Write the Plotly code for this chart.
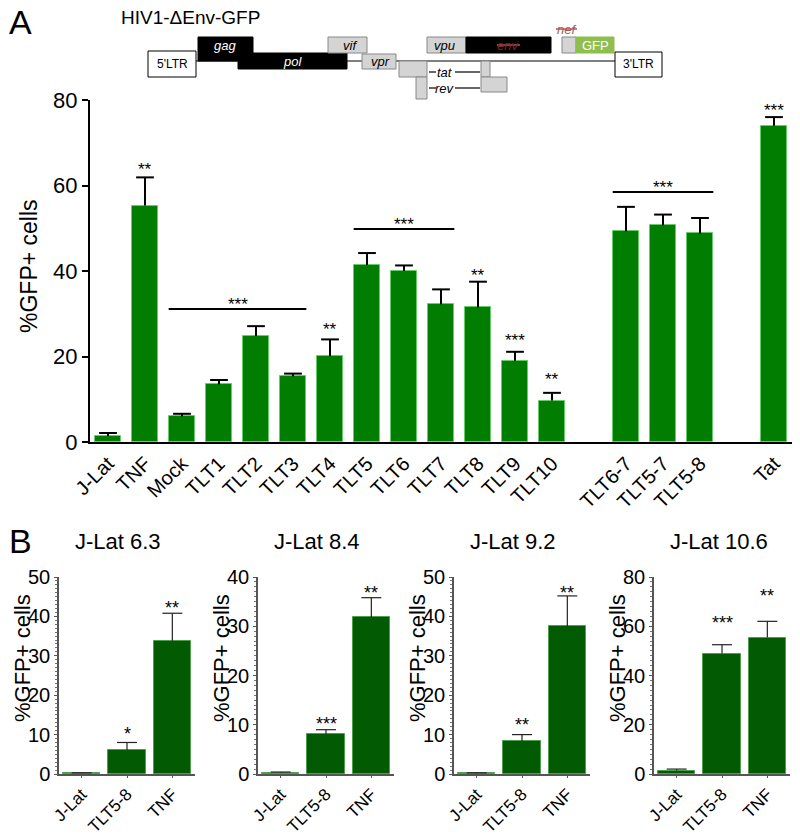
import plotly.graph_objects as go

W, H = 800, 834
OFF = 8  # page body margin offset
FONT = "Arial, Liberation Sans, Helvetica, sans-serif"

# ---------------- Panel A data ----------------
a_groups = [
    ["J-Lat", "TNF", "Mock", "TLT1", "TLT2", "TLT3", "TLT4", "TLT5", "TLT6",
     "TLT7", "TLT8", "TLT9", "TLT10"],
    ["TLT6-7", "TLT5-7", "TLT5-8"],
    ["Tat"],
]
a_values = [1.4, 55.3, 6.0, 13.5, 24.8, 15.4, 20.1, 41.4, 40.0, 32.2, 31.5,
            19.0, 9.7, 49.3, 50.7, 48.8, 74.0]
a_errors = [0.7, 6.6, 0.6, 1.0, 2.3, 0.6, 3.9, 2.8, 1.3, 3.5, 6.0, 2.1, 1.8,
            5.7, 2.5, 3.6, 2.0]
a_star_labels = ["TNF", "TLT4", "TLT8", "TLT9", "TLT10", "Tat"]
a_star_texts = ["**", "**", "**", "***", "**", "***"]
a_star_y = [64.8, 27.6, 40.1, 24.9, 15.7, 78.7]
a_bracket_from = ["Mock", "TLT5", "TLT6-7"]
a_bracket_to = ["TLT3", "TLT7", "TLT5-8"]
a_bracket_y = [31.1, 49.8, 58.5]
a_bracket_text = ["***", "***", "***"]
a_yticks = [0, 20, 40, 60, 80]

# ---------------- Panel B data ----------------
b_titles = ["J-Lat 6.3", "J-Lat 8.4", "J-Lat 9.2", "J-Lat 10.6"]
b_categories = ["J-Lat", "TLT5-8", "TNF"]
b_values = [[0.2, 6.1, 33.8], [0.3, 8.1, 31.8], [0.2, 8.4, 37.5], [1.4, 48.9, 55.4]]
b_errors = [[0.1, 1.9, 7.0], [0.1, 0.9, 4.0], [0.1, 1.6, 7.7], [0.6, 3.6, 6.6]]
b_ymax = [50, 40, 50, 80]
b_ydtick = [10, 10, 10, 20]
b_star_texts = [["", "*", "**"], ["", "***", "**"], ["", "**", "**"], ["", "***", "**"]]
b_star_y = [[None, 11.4, 43.4], [None, 11.2, 37.8], [None, 13.8, 47.2], [None, 63.3, 74.3]]

# ---------------- helpers ----------------
FW, FH = W - OFF, H - OFF

def px(x):
    return (x - OFF) / FW

def py(y):
    return 1 - (y - OFF) / FH

fig = go.Figure()

a_names, a_x = [], []
pos = 0
for g in a_groups:
    for name in g:
        a_names.append(name)
        a_x.append(pos)
        pos += 1
    pos += 1
xmap = dict(zip(a_names, a_x))

A_GREEN = "#017D01"
A_EDGE = "#6ACB6A"
fig.add_trace(go.Bar(x=a_x, y=a_values, width=0.72,
                     marker=dict(color=A_GREEN, line=dict(color=A_EDGE, width=1)),
                     xaxis="x", yaxis="y", showlegend=False, hoverinfo="skip"))

def err_xy(xs, vs, es, cap):
    ex, ey = [], []
    for x, v, e in zip(xs, vs, es):
        ex += [x, x, None, x - cap, x + cap, None]
        ey += [v, v + e, None, v + e, v + e, None]
    return ex, ey

ex, ey = err_xy(a_x, a_values, a_errors, 0.24)
fig.add_trace(go.Scatter(x=ex, y=ey, mode="lines", line=dict(color="black", width=2),
                         xaxis="x", yaxis="y", showlegend=False, hoverinfo="skip"))

annotations = []
shapes = []

STAR_SHIFT = -5
def star(x, y, txt, xr, yr, size=17):
    annotations.append(dict(x=x, y=y, xref=xr, yref=yr, text=txt, showarrow=False,
                            xanchor="center", yanchor="middle", yshift=STAR_SHIFT,
                            font=dict(size=size, family=FONT, color="black")))

for lab, txt, yv in zip(a_star_labels, a_star_texts, a_star_y):
    star(xmap[lab], yv, txt, "x", "y")
for f, t, yv, txt in zip(a_bracket_from, a_bracket_to, a_bracket_y, a_bracket_text):
    shapes.append(dict(type="line", xref="x", yref="y", x0=xmap[f] - 0.36,
                       x1=xmap[t] + 0.36, y0=yv, y1=yv,
                       line=dict(color="black", width=2)))
    star((xmap[f] + xmap[t]) / 2, yv + 2.2, txt, "x", "y")

def ptext(x, y, txt, size, color="black", angle=0, xanchor="center"):
    annotations.append(dict(x=px(x), y=py(y), xref="paper", yref="paper", text=txt,
                            textangle=angle, showarrow=False, xanchor=xanchor,
                            yanchor="middle",
                            font=dict(size=size, family=FONT, color=color)))

ax_left, ax_right = 90, 794
x0px, slot = 108, 37
layout_axes = dict(
    xaxis=dict(domain=[px(ax_left), px(ax_right)],
               range=[(ax_left - x0px) / slot, (ax_right - x0px) / slot],
               tickmode="array", tickvals=a_x, ticktext=a_names, tickangle=-45,
               ticks="", showline=True, linecolor="black", linewidth=2,
               showgrid=False, zeroline=False, automargin=False,
               tickfont=dict(size=20, family=FONT, color="black"), anchor="y"),
    yaxis=dict(domain=[py(442), py(100)], range=[0, 80], tickmode="array",
               tickvals=a_yticks, ticks="outside", ticklen=6, tickwidth=2,
               tickcolor="black", showline=True, linecolor="black", linewidth=2,
               showgrid=False, zeroline=False, automargin=False,
               tickfont=dict(size=22, family=FONT, color="black"), anchor="x"),
)
ptext(29, 266, "%GFP+ cells", 23, angle=-90)

# ---------------- Panel B ----------------
B_GREEN = "#025A02"
B_EDGE = "#4E9E4E"
b_axis_px = [59, 258, 454, 654]
b_width_px = 136
b_top, b_bot = 577, 774
for i in range(4):
    xn = "x%d" % (i + 2)
    yn = "y%d" % (i + 2)
    bx = list(range(len(b_categories)))
    fig.add_trace(go.Bar(x=bx, y=b_values[i], width=0.82,
                         marker=dict(color=B_GREEN, line=dict(color=B_EDGE, width=1)),
                         xaxis=xn, yaxis=yn, showlegend=False, hoverinfo="skip"))
    ex, ey = err_xy(bx, b_values[i], b_errors[i], 0.22)
    fig.add_trace(go.Scatter(x=ex, y=ey, mode="lines", line=dict(color="#222", width=1.2),
                             xaxis=xn, yaxis=yn, showlegend=False, hoverinfo="skip"))
    for j, (txt, yv) in enumerate(zip(b_star_texts[i], b_star_y[i])):
        if txt:
            star(j, yv, txt, xn, yn, size=18)
    axl = b_axis_px[i]
    layout_axes["xaxis%d" % (i + 2)] = dict(
        domain=[px(axl), px(axl + b_width_px)], range=[-0.5, 2.5],
        tickmode="array", tickvals=bx, ticktext=b_categories, tickangle=-45,
        ticks="outside", ticklen=2, tickwidth=1.2, tickcolor="#555",
        showline=True, linecolor="#555", linewidth=1.5, showgrid=False, zeroline=False,
        automargin=False,
        tickfont=dict(size=17, family=FONT, color="black"), anchor=yn)
    layout_axes["yaxis%d" % (i + 2)] = dict(
        domain=[py(b_bot), py(b_top)], range=[0, b_ymax[i]], dtick=b_ydtick[i],
        tick0=0, ticks="outside", ticklen=3, tickwidth=1.2, tickcolor="#555",
        minor=dict(ticks="outside", dtick=b_ydtick[i] / 10, ticklen=2,
                   tickcolor="#777", tickwidth=1),
        showline=True, linecolor="#555", linewidth=1.5, showgrid=False, zeroline=False,
        automargin=False,
        tickfont=dict(size=20, family=FONT, color="black"), anchor=xn)
    ptext(axl - 37, 658, "%GFP+ cells", 22, angle=-90)
    ptext(axl + 14, 541, b_titles[i], 22, xanchor="left")

# ---------------- Panel letters and title ----------------
ptext(7, 22, "A", 34, xanchor="left")
ptext(7, 541, "B", 34, xanchor="left")
ptext(119, 17, "HIV1-ΔEnv-GFP", 19, xanchor="left")

# ---------------- Genome diagram (illustration) ----------------
def rect(x0, y0, x1, y1, fill, line="#888", lw=1):
    shapes.append(dict(type="rect", xref="paper", yref="paper",
                       x0=px(x0), x1=px(x1), y0=py(y1), y1=py(y0),
                       fillcolor=fill, line=dict(color=line, width=lw)))

def hline(x0, x1, y, color="black", lw=1.2):
    shapes.append(dict(type="line", xref="paper", yref="paper",
                       x0=px(x0), x1=px(x1), y0=py(y), y1=py(y),
                       line=dict(color=color, width=lw)))

def label(x, y, txt, color="black", size=12, italic=True):
    t = "<i>%s</i>" % txt if italic else txt
    ptext(x, y, t, size, color)

GRAY = "#D4D4D4"
hline(196, 615, 61)
rect(148, 51, 196, 77, "white", "black", 1)
label(172, 64, "5'LTR", italic=False, size=12)
rect(198, 37, 253, 61, "black", "black")
rect(238, 53, 347, 69, "black", "black")
label(225, 45, "gag", "white", 13)
label(292, 61, "pol", "white", 13)
rect(328, 37, 367, 53, GRAY)
label(350, 45, "vif", "black", 13)
rect(362, 54, 396, 69, GRAY)
label(380, 61, "vpr", "black", 13)
rect(399, 61, 427, 77, GRAY)
rect(416, 77, 427, 99, GRAY)
rect(427, 37, 466, 53, GRAY)
label(444, 45, "vpu", "black", 13)
rect(466, 37, 551, 53, "black", "black")
label(508, 45, "env", "#7a2828", 13)
hline(497, 520, 45, "#C0504D", 1.5)
rect(481, 61, 490, 77, GRAY)
rect(481, 77, 507, 92, GRAY)
hline(429, 436, 72)
hline(455, 480, 72)
label(445, 72, "tat", "black", 13)
hline(429, 436, 88)
hline(455, 480, 88)
label(445, 88, "rev", "black", 13)
rect(562, 37, 576, 53, GRAY)
label(566, 29, "nef", "#a05a5a", 13)
hline(556, 577, 29, "#C0504D", 1.5)
rect(576, 37, 614, 53, "#8DBE4F", "#8DBE4F")
label(595, 45, "GFP", "white", 13, italic=False)
rect(615, 52, 662, 77, "white", "black", 1)
label(638, 64, "3'LTR", italic=False, size=12)

fig.update_layout(template="none", width=FW, height=FH,
                  margin=dict(l=0, r=0, t=0, b=0, autoexpand=False),
                  paper_bgcolor="white", plot_bgcolor="white",
                  font=dict(family=FONT, color="black"), bargap=0,
                  annotations=annotations, shapes=shapes, **layout_axes)

fig.write_html("out.html")
